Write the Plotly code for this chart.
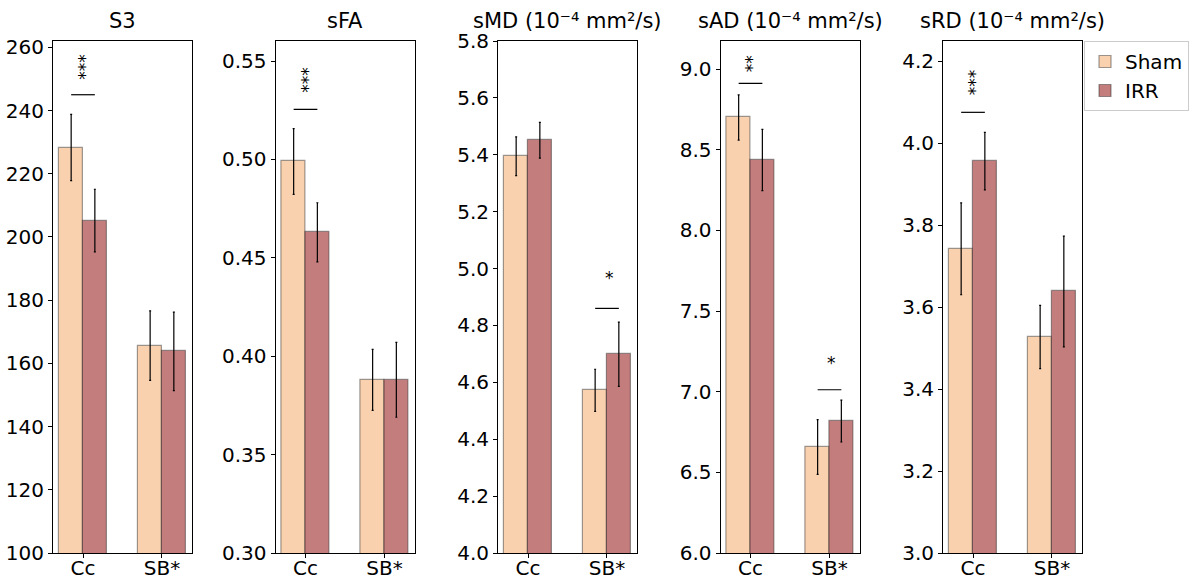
import plotly.graph_objects as go

categories = ["Cc", "SB*"]
groups = ["Sham", "IRR"]
titles = ["S3", "sFA", "sMD (10⁻⁴ mm²/s)", "sAD (10⁻⁴ mm²/s)", "sRD (10⁻⁴ mm²/s)"]

sham_mean = [[228.3, 165.6], [0.499, 0.388], [5.395, 4.572], [8.700, 6.657], [3.742, 3.527]]
sham_err = [[10.5, 11.0], [0.0167, 0.0155], [0.068, 0.074], [0.140, 0.170], [0.112, 0.077]]
irr_mean = [[205.2, 163.8], [0.463, 0.388], [5.451, 4.699], [8.436, 6.818], [3.956, 3.638]]
irr_err = [[9.9, 12.4], [0.015, 0.019], [0.063, 0.113], [0.190, 0.130], [0.070, 0.135]]

y_ranges = [[100, 262], [0.30, 0.5602], [4.0, 5.8], [6.0, 9.174], [3.0, 4.249]]
y_ticks = [
    [100, 120, 140, 160, 180, 200, 220, 240, 260],
    [0.30, 0.35, 0.40, 0.45, 0.50, 0.55],
    [4.0, 4.2, 4.4, 4.6, 4.8, 5.0, 5.2, 5.4, 5.6, 5.8],
    [6.0, 6.5, 7.0, 7.5, 8.0, 8.5, 9.0],
    [3.0, 3.2, 3.4, 3.6, 3.8, 4.0, 4.2],
]
y_formats = ["d", ".2f", ".1f", ".1f", ".1f"]

# significance: (panel, category index, label, bracket height, label height)
sig_panel = [0, 1, 2, 3, 3, 4]
sig_cat = [0, 0, 1, 0, 1, 0]
sig_label = ["***", "***", "*", "**", "*", "***"]
sig_bracket = [245.0, 0.5255, 4.860, 8.911, 7.012, 4.075]
sig_text_y = [254.0, 0.5405, 4.966, 9.035, 7.175, 4.149]

colors = {"Sham": "rgba(246,190,140,0.70)", "IRR": "rgba(170,70,70,0.70)"}

W, H = 1204, 578
ml, mr, mt, mb = 53, 122, 41, 25
pw = W - ml - mr
panel_px = 139
pitch = 222.5

fig = go.Figure()
FONT = "DejaVu Sans"
for i in range(5):
    ax = "" if i == 0 else str(i + 1)
    x0 = pitch * i / pw
    x1 = (pitch * i + panel_px) / pw
    for g, means, errs, off in [("Sham", sham_mean, sham_err, -0.3), ("IRR", irr_mean, irr_err, 0.0)]:
        fig.add_trace(go.Bar(
            x=[0, 1], y=means[i], base=0, width=0.3, offset=off,
            name=g, showlegend=(i == 0),
            marker=dict(color=colors[g], line=dict(color="rgba(40,40,40,0.45)", width=1.2)),
            error_y=dict(type="data", array=errs[i], color="black", thickness=1.2, width=1),
            xaxis="x" + ax, yaxis="y" + ax,
        ))
    fig.update_layout(**{
        "xaxis" + ax: dict(domain=[x0, x1], range=[-0.38, 1.38], tickvals=[0, 1], ticktext=categories,
                           showline=True, linecolor="black", linewidth=1, mirror=True,
                           ticks="outside", ticklen=4, tickcolor="black", showgrid=False, zeroline=False,
                           ticklabelstandoff=-7,
                           anchor="y" + ax, tickfont=dict(size=20, color="black", family=FONT)),
        "yaxis" + ax: dict(range=y_ranges[i], tickvals=y_ticks[i], tickformat=y_formats[i],
                           showline=True, linecolor="black", linewidth=1, mirror=True,
                           ticks="outside", ticklen=4, tickcolor="black", showgrid=False, zeroline=False,
                           anchor="x" + ax, tickfont=dict(size=20, color="black", family=FONT)),
    })
    fig.add_annotation(text=titles[i], x=(x0 + x1) / 2, y=1, xref="paper", yref="paper",
                       xanchor="center", yanchor="bottom", yshift=6, showarrow=False,
                       font=dict(size=21, color="black", family=FONT))

for k in range(len(sig_label)):
    i = sig_panel[k]
    ax = "" if i == 0 else str(i + 1)
    c = sig_cat[k]
    fig.add_shape(type="line", x0=c - 0.15, x1=c + 0.15, y0=sig_bracket[k], y1=sig_bracket[k],
                  xref="x" + ax, yref="y" + ax, line=dict(color="black", width=1.2))
    fig.add_annotation(text=sig_label[k], x=c + 0.03, y=sig_text_y[k], xref="x" + ax, yref="y" + ax,
                       showarrow=False, textangle=-90 if len(sig_label[k]) > 1 else 0,
                       xanchor="center", yanchor="middle",
                       font=dict(size=17, color="black", family=FONT))

fig.update_layout(
    width=W, height=H, barmode="overlay", bargap=0,
    margin=dict(l=ml, r=mr, t=mt, b=mb, autoexpand=False),
    plot_bgcolor="white", paper_bgcolor="white",
    legend=dict(x=(1084 - ml) / pw, y=1, xanchor="left", yanchor="top",
                bordercolor="#cccccc", borderwidth=1, bgcolor="white", tracegroupgap=0,
                font=dict(size=20, color="black", family=FONT)),
)
fig.write_html("out.html", config={"displayModeBar": False},
               post_script="document.body.style.margin='0';document.body.style.overflow='hidden';")
